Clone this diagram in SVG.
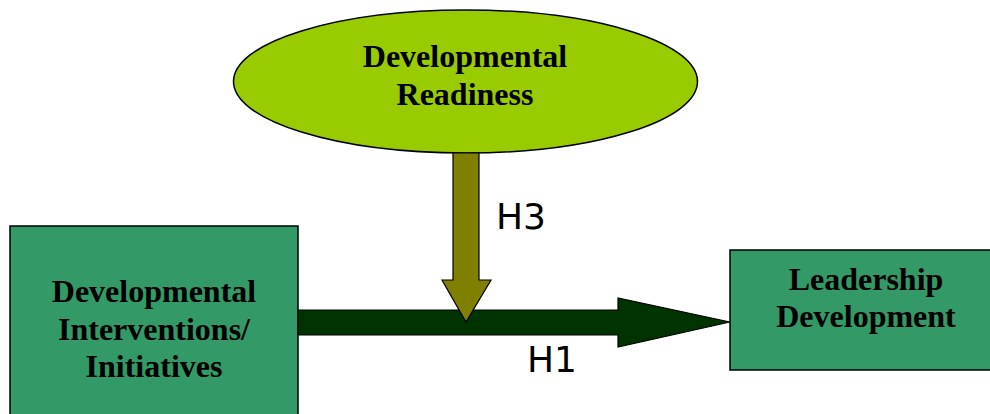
<svg xmlns="http://www.w3.org/2000/svg" width="990" height="414" viewBox="0 0 990 414">
  <style>
    .box { fill: #339966; stroke: #000; stroke-width: 1.5; }
    .oval { fill: #99cc00; stroke: #000; stroke-width: 1.5; }
    .lbl { font-family: "Liberation Serif", "Times New Roman", serif; font-weight: bold; font-size: 32px; fill: #000; text-anchor: middle; }
    .hyp { font-family: "DejaVu Sans", Verdana, sans-serif; font-size: 36px; fill: #000; }
    .arr { stroke: #000; stroke-width: 1.2; stroke-linejoin: miter; }
  </style>
  <rect width="990" height="414" fill="#fff"/>

  <g id="node-interventions">
    <rect class="box" x="10" y="226" width="288" height="200"/>
    <text class="lbl" x="154" y="302">Developmental</text>
    <text class="lbl" x="154" y="340">Interventions/</text>
    <text class="lbl" x="154" y="377">Initiatives</text>
  </g>

  <g id="node-leadership">
    <rect class="box" x="730" y="250" width="272" height="120"/>
    <text class="lbl" x="866" y="290">Leadership</text>
    <text class="lbl" x="866" y="327">Development</text>
  </g>

  <g id="node-readiness">
    <ellipse class="oval" cx="465.5" cy="81.5" rx="232" ry="71.5"/>
    <text class="lbl" x="465" y="67">Developmental</text>
    <text class="lbl" x="465" y="105">Readiness</text>
  </g>

  <g id="connectors">
    <!-- H1: main effect arrow -->
    <polygon class="arr" fill="#003300" points="298,310 618,310 618,298 730,322 618,347 618,335 298,335"/>
    <!-- H3: moderating arrow -->
    <polygon class="arr" fill="#808000" points="453,153 479,153 479,280 491,280 466,322 442,280 453,280"/>
    <text class="hyp" x="496" y="229">H3</text>
    <text class="hyp" x="527" y="372">H1</text>
  </g>
</svg>
